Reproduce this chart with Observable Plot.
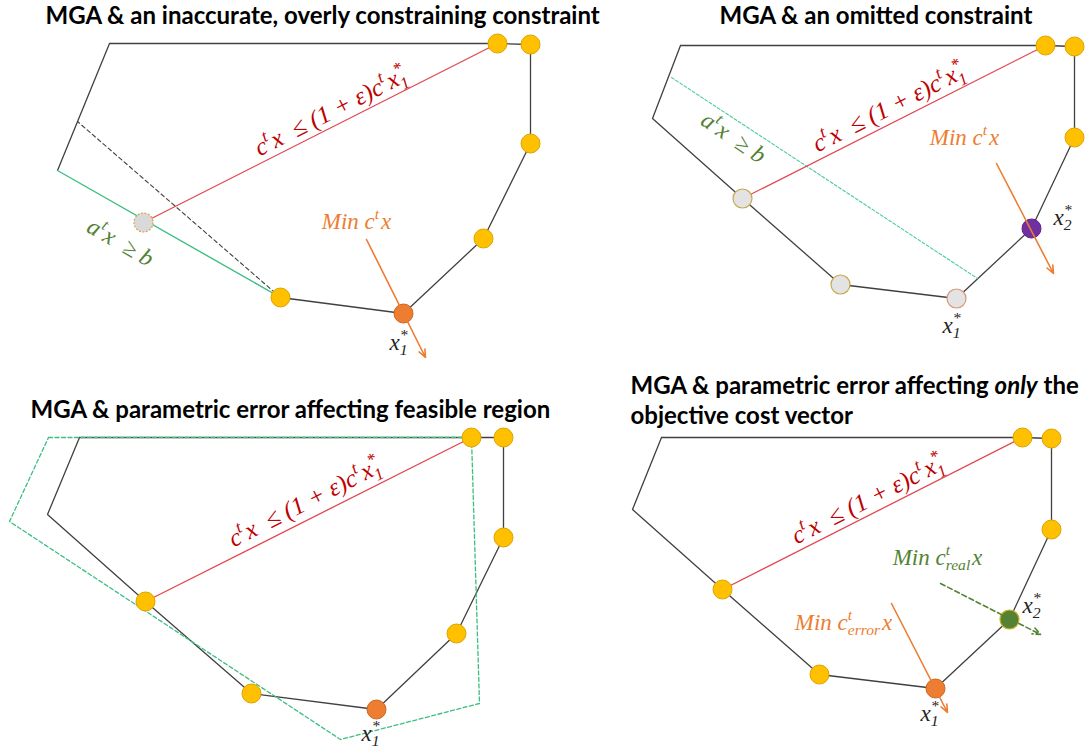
<!DOCTYPE html>
<html><head><meta charset="utf-8">
<script src="https://cdn.jsdelivr.net/npm/d3@7"></script>
<script src="https://cdn.jsdelivr.net/npm/@observablehq/plot@0.6"></script>
<style>html,body{margin:0;padding:0;background:#fff;}</style>
</head><body><div id="chart"></div>
<script>
// ---------- DATA (diagram coordinates) ----------
const titles = [
  {text: "MGA & an inaccurate, overly constraining constraint", x: 45, y: 23},
  {text: "MGA & an omitted constraint", x: 719, y: 23},
  {text: "MGA & parametric error affecting feasible region", x: 30, y: 417},
  {text: "MGA & parametric error affecting ~{only} the", x: 630, y: 393},
  {text: "objective cost vector", x: 630, y: 423}
];
const titleWidths = [600, 318, 567, 451, 220];

// Panel 1: inaccurate, overly constraining constraint
const p1Outline = [[57,170],[109,43],[497,43],[530,44],[530,143],[483,238],[403,313],[280,297]];
const p1HiddenEdge = [[280,297],[77,121]];
const p1Constraint = [[57,170],[280,297]];
// Panel 2: omitted constraint
const p2Outline = [[680,45],[1045,45],[1074,46],[1074,137],[1031,228],[956,298],[840,284],[742,198],[652,118],[680,45]];
const p2Constraint = [[671,77],[977,278]];
// Panel 3: parametric error on feasible region
const p3Outline = [[79,437],[471,437],[503,437],[503,537],[456,633],[376,709],[251,693],[145,601],[47,514],[79,437]];
const p3Perturbed = [[48,437],[471,437],[479,703],[340,739],[9,521],[48,437]];
// Panel 4: error only in objective
const p4Outline = [[661,437],[1022,437],[1051,438],[1051,529],[1009,619],[935,688],[819,674],[722,589],[632,509],[661,437]];

// MGA budget constraint lines  c^t x <= (1+eps) c^t x1*
const budgetLines = [
  {x1:143,y1:222,x2:497,y2:43},
  {x1:742,y1:198,x2:1045,y2:45},
  {x1:145,y1:601,x2:471,y2:437},
  {x1:722,y1:589,x2:1022,y2:437}
];

// vertices
const yellowVertices = [[497,43],[530,44],[530,143],[483,238],[280,297],
  [1045,45],[1074,46],[1074,137],
  [471,437],[503,437],[503,537],[456,633],[251,693],[145,601],
  [1022,437],[1051,438],[1051,529],[819,674],[722,589]];
const optimumVertices = [[403,313],[376,709],[935,688]];
const cutVertex = [[143,222]];
const lostVertices = [[742,198],[840,284]];
const lostOptimum = [[956,298]];
const newOptimum = [[1031,228]];
const realOptimum = [[1009,619]];

// objective direction arrows
const objectiveArrows = [
  {x1:366,y1:239,x2:425,y2:357},
  {x1:996,y1:163,x2:1053,y2:273},
  {x1:891,y1:603,x2:947,y2:712}
];
const realObjectiveArrows = [{x1:940,y1:583,x2:1040,y2:634}];

// labels
const budgetLabels = [{x:330,y:111},{x:888,y:107},{x:304,y:502},{x:867,y:499}];
const budgetText = "c^{t}x  ≤ (1 + ε)c^{t}x_{1}^{*}";
const constraintLabels1 = [{x:120,y:242}];
const constraintLabels2 = [{x:733,y:137}];
const constraintText = "a^{t}x  ≥ b";
const objectiveLabels = [
  {x:356,y:221,text:"Min c^{t}x"},
  {x:964,y:137,text:"Min c^{t}x"},
  {x:843,y:622,text:"Min c^{t}_{error}x"}
];
const realObjectiveLabels = [{x:937,y:557,text:"Min c^{t}_{real}x"}];
const optimumLabels = [
  {x:398,y:342,text:"x_{1}^{*}"},
  {x:951,y:325,text:"x_{1}^{*}"},
  {x:1062,y:217,text:"x_{2}^{*}"},
  {x:370,y:733,text:"x_{1}^{*}"},
  {x:929,y:713,text:"x_{1}^{*}"},
  {x:1031,y:605,text:"x_{2}^{*}"}
];

// ---------- STYLE ----------
const BLACK = "#404040", RED = "#E2474F", REDTXT = "#C00000", MINT = "#3DBE82",
      GREENTXT = "#548235", ORANGE = "#ED7D31", YELLOW = "#FFC000", YELLOW_S = "#DCA400";
const MATH = "'Liberation Serif', 'DejaVu Serif', serif";
const TITLE = "Lato, 'Open Sans', sans-serif";

const outline = d => Plot.line(d, {stroke: BLACK, strokeWidth: 1.3});
const mathText = (d, o) => Plot.text(d, {x: "x", y: "y", fontFamily: MATH, fontStyle: "italic", fontSize: 23, ...o});

const chart = Plot.plot({
  width: 1091, height: 750, margin: 0,
  x: {domain: [0, 1091], range: [0, 1091], axis: null},
  y: {domain: [0, 750], range: [0, 750], axis: null},
  style: {background: "white"},
  marks: [
    outline(p1Outline), outline(p2Outline), outline(p3Outline), outline(p4Outline),
    Plot.line(p1HiddenEdge, {stroke: BLACK, strokeWidth: 1.1, strokeDasharray: "4,3"}),
    Plot.line(p1Constraint, {stroke: MINT, strokeWidth: 1.4}),
    Plot.line(p2Constraint, {stroke: "#4CCB9C", strokeWidth: 1.1, strokeDasharray: "3,2"}),
    Plot.line(p3Perturbed, {stroke: MINT, strokeWidth: 1.3, strokeDasharray: "4,2.5"}),
    Plot.link(budgetLines, {x1: "x1", y1: "y1", x2: "x2", y2: "y2", stroke: RED, strokeWidth: 1.3}),
    Plot.dot(yellowVertices, {r: 9.5, fill: YELLOW, stroke: YELLOW_S, strokeWidth: 1}),
    Plot.dot(optimumVertices, {r: 9.5, fill: ORANGE, stroke: "#D0651E", strokeWidth: 1}),
    Plot.dot(cutVertex, {r: 9.5, fill: "#D9D9D9", stroke: "#D2A24C", strokeWidth: 1.2, strokeDasharray: "2,1.5"}),
    Plot.dot(lostVertices, {r: 9.5, fill: "#E3E3E3", stroke: "#C9A94E", strokeWidth: 1.2}),
    Plot.dot(lostOptimum, {r: 9.5, fill: "#E3E3E3", stroke: "#D49A7A", strokeWidth: 1.2}),
    Plot.dot(newOptimum, {r: 9.5, fill: "#7030A0", stroke: "#5B2385", strokeWidth: 1}),
    Plot.dot(realOptimum, {r: 9.5, fill: "#548235", stroke: "#C8B020", strokeWidth: 1.2}),
    Plot.arrow(objectiveArrows, {x1: "x1", y1: "y1", x2: "x2", y2: "y2", stroke: ORANGE, strokeWidth: 1.6, headLength: 8, headAngle: 45}),
    Plot.arrow(realObjectiveArrows, {x1: "x1", y1: "y1", x2: "x2", y2: "y2", stroke: GREENTXT, strokeWidth: 1.6, strokeDasharray: "5,3", headLength: 8, headAngle: 45}),
    mathText(budgetLabels, {text: () => budgetText, fill: REDTXT, rotate: -27, fontSize: 25}),
    mathText(constraintLabels1, {text: () => constraintText, fill: GREENTXT, rotate: 30, fontSize: 24}),
    mathText(constraintLabels2, {text: () => constraintText, fill: GREENTXT, rotate: 34, fontSize: 24}),
    mathText(objectiveLabels, {text: "text", fill: ORANGE, fontSize: 23}),
    mathText(realObjectiveLabels, {text: "text", fill: GREENTXT, fontSize: 23}),
    mathText(optimumLabels, {text: "text", fill: "#222", fontSize: 23}),
    Plot.text(titles, {x: "x", y: "y", text: "text", textAnchor: "start", lineAnchor: "bottom",
      fontFamily: TITLE, fontWeight: "bold", fontSize: 24, fill: "#000", ariaLabel: "title"})
  ]
});
document.getElementById("chart").appendChild(chart);

// ---------- rich text: ^{sup} _{sub} ~{italic} ----------
const NS = "http://www.w3.org/2000/svg";
function parse(s) {
  const segs = []; let buf = "", i = 0;
  while (i < s.length) {
    const c = s[i];
    if ((c === "^" || c === "_" || c === "~") && s[i + 1] === "{") {
      if (buf) { segs.push({t: buf, k: "n"}); buf = ""; }
      const j = s.indexOf("}", i + 2);
      segs.push({t: s.slice(i + 2, j), k: c});
      i = j + 1;
    } else { buf += c; i++; }
  }
  if (buf) segs.push({t: buf, k: "n"});
  return segs;
}
function rebuild(el) {
  const s = el.textContent;
  if (!/[\^_~]\{/.test(s)) return;
  const fs = parseFloat(getComputedStyle(el).fontSize);
  const segs = parse(s);
  while (el.firstChild) el.removeChild(el.firstChild);
  let shift = 0, prev = null, prevK = null;
  for (const seg of segs) {
    const ts = document.createElementNS(NS, "tspan");
    ts.textContent = seg.t;
    if (seg.k === "n" || seg.k === "~") ts.setAttribute("xml:space", "preserve");
    let target = 0;
    if (seg.k === "^") target = -0.42 * fs;
    if (seg.k === "_") target = 0.24 * fs;
    if (seg.k === "^" || seg.k === "_") ts.setAttribute("font-size", (0.68 * fs).toFixed(2));
    if (seg.k === "~") ts.setAttribute("font-style", "italic");
    ts.setAttribute("dy", (target - shift).toFixed(2));
    shift = target;
    el.appendChild(ts);
    if ((seg.k === "^" && prevK === "_") || (seg.k === "_" && prevK === "^")) {
      ts.setAttribute("dx", (-prev.getComputedTextLength()).toFixed(2));
    } else if (seg.k === "n" && (prevK === "^" || prevK === "_")) {
      ts.setAttribute("dx", (0.08 * fs).toFixed(2));
    }
    prev = ts; prevK = seg.k;
  }
}
d3.select(chart).selectAll("text").each(function() { rebuild(this); });
d3.select(chart).selectAll("g[aria-label='title'] text").each(function(d, i) {
  this.setAttribute("textLength", titleWidths[i]);
  this.setAttribute("lengthAdjust", "spacingAndGlyphs");
});
</script></body></html>
